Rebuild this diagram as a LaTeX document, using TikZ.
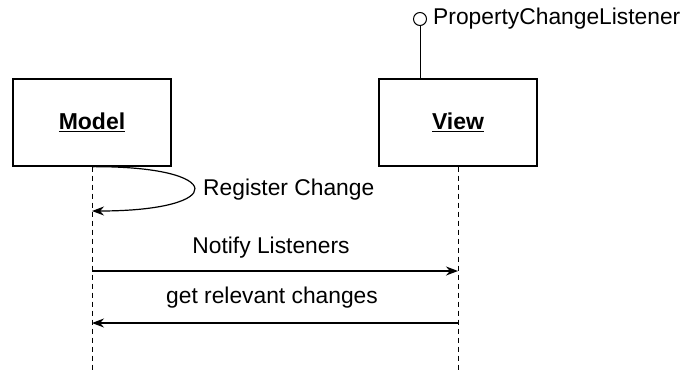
\documentclass[tikz,border=0pt]{standalone}
\usepackage{fontspec}
\setmainfont{Liberation Sans}
\usetikzlibrary{arrows.meta}
\begin{document}
\begin{tikzpicture}[x=1pt,y=-1pt,
  obj/.style={draw,line width=1.3pt,minimum width=158pt,minimum height=87pt,inner sep=0pt,font=\fontsize{23}{26}\selectfont\bfseries},
  lbl/.style={font=\fontsize{22.8}{26}\selectfont,inner sep=0pt},
  life/.style={line width=1pt,dash pattern=on 5pt off 4pt},
  msg/.style={line width=1.2pt,-{Stealth[length=12pt,width=9pt]}}]
\useasboundingbox (0,0) rectangle (687,370);
\node[obj] (model) at (92,122.5) {\underline{Model}};
\node[obj] (view) at (458,122.5) {\underline{View}};
\node[draw,circle,line width=1pt,minimum size=13pt,inner sep=0pt] (iface) at (420,19) {};
\node[lbl,anchor=west] (ifl) at (433,19) {PropertyChangeListener};
\draw[line width=1pt] (iface) -- (iface |- view.north);
\coordinate (mend) at (92,370);
\coordinate (vend) at (458,370);
\draw[life] (model.south) -- (mend);
\draw[life] (view.south) -- (vend);
\coordinate (selfin) at (92,211);
\coordinate (n1) at (92,271);
\coordinate (n2) at (458,271);
\coordinate (g1) at (458,323);
\coordinate (g2) at (92,323);
\draw[msg] (model.south) .. controls (228,166) and (228,211) .. (selfin);
\node[lbl,anchor=west] (reg) at (203,190) {Register Change};
\draw[msg] (n1) -- (n2);
\node[lbl] (nl) at (271,248) {Notify Listeners};
\draw[msg] (g1) -- (g2);
\node[lbl] (gl) at (272,298) {get relevant changes};
\end{tikzpicture}
\end{document}
